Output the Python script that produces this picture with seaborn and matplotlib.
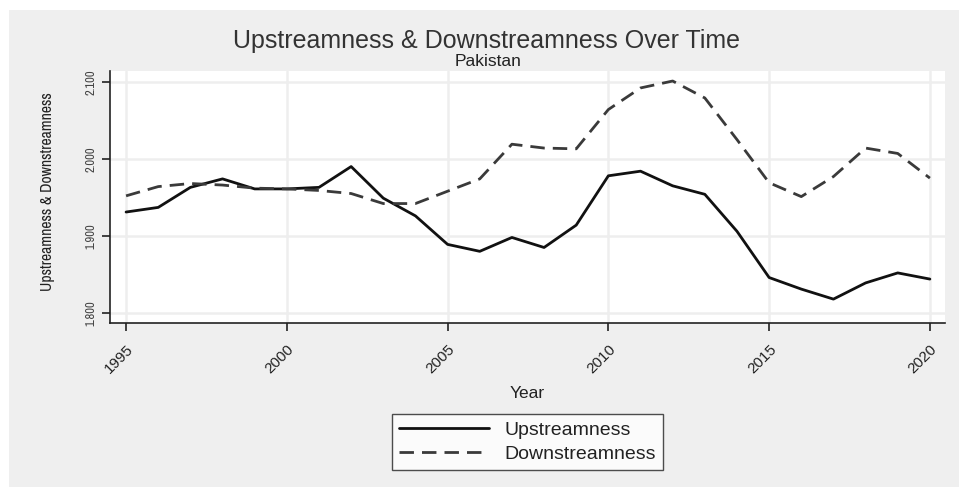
import numpy as np
import pandas as pd
import matplotlib
matplotlib.use("Agg")
import matplotlib.pyplot as plt
from matplotlib import font_manager
from matplotlib.patches import Rectangle
import seaborn as sns

# Pakistan: GVC position indices by year
years = list(range(1995, 2021))
upstreamness = [1.931, 1.937, 1.963, 1.974, 1.961, 1.961, 1.963, 1.990, 1.949, 1.926,
                1.889, 1.880, 1.898, 1.885, 1.914, 1.978, 1.984, 1.965, 1.954, 1.906,
                1.846, 1.831, 1.818, 1.839, 1.852, 1.844]
downstreamness = [1.952, 1.964, 1.968, 1.966, 1.962, 1.961, 1.959, 1.955, 1.942, 1.942,
                  1.958, 1.974, 2.019, 2.014, 2.013, 2.064, 2.092, 2.101, 2.079, 2.025,
                  1.969, 1.951, 1.977, 2.014, 2.007, 1.975]
series_names = ["Upstreamness", "Downstreamness"]
x_ticks = [1995, 2000, 2005, 2010, 2015, 2020]
y_ticks = [1.8, 1.9, 2.0, 2.1]
y_tick_labels = ["1.800", "1.900", "2.000", "2.100"]

df = pd.DataFrame({
    "Year": years * 2,
    "Value": upstreamness + downstreamness,
    "Series": [series_names[0]] * len(years) + [series_names[1]] * len(years),
})

sns.set_theme(style="white")
plt.rcParams["font.family"] = ["Liberation Sans", "DejaVu Sans"]

# a condensed face for the rotated y-axis text, if one is installed
narrow_names = sorted({f.name for f in font_manager.fontManager.ttflist
                       if "Narrow" in f.name or "Condensed" in f.name})
narrow = narrow_names[0] if narrow_names else None
if narrow:
    ylab_family, ylab_size, ytick_size = [narrow, "Liberation Sans"], 11.3, 9
else:
    ylab_family, ylab_size, ytick_size = ["Liberation Sans"], 10.0, 6.8

W, H, DPI = 959, 487, 100
fig = plt.figure(figsize=(W / DPI, H / DPI), dpi=DPI, facecolor="white")
# grey panel behind everything, leaving a thin white margin top and left
fig.patches.append(Rectangle((9 / W, 0), 1 - 9 / W, 1 - 10 / H,
                             transform=fig.transFigure, facecolor="#efefef",
                             edgecolor="none", zorder=-10))

ax = fig.add_axes([110 / W, 1 - 323 / H, (945 - 110) / W, (323 - 71) / H])
ax.set_facecolor("white")

dash = (5.2, 2.9)
sns.lineplot(data=df, x="Year", y="Value", hue="Series", style="Series",
             palette={"Upstreamness": "#111111", "Downstreamness": "#3a3a3a"},
             dashes={"Upstreamness": "", "Downstreamness": dash},
             linewidth=2.0, ax=ax, legend=False)

ax.set_xlim(1994.5, 2020.47)
ax.set_ylim(1.787, 2.114)
ax.set_xticks(x_ticks)
ax.set_xticklabels([str(t) for t in x_ticks], rotation=45, fontsize=11,
                   ha="right", va="top", rotation_mode="anchor", color="#222222")
ax.set_yticks(y_ticks)
ax.set_yticklabels(y_tick_labels, rotation=90, va="center",
                   family=ylab_family, fontsize=ytick_size, color="#444444")
ax.grid(True, color="#eeeeee", linewidth=1.8)
ax.tick_params(axis="both", which="major", direction="out", length=5.5, width=1.2,
               color="#222222", left=True, bottom=True)
ax.tick_params(axis="x", pad=8)
ax.tick_params(axis="y", pad=4)

for side in ["top", "right"]:
    ax.spines[side].set_visible(False)
for side in ["left", "bottom"]:
    ax.spines[side].set_color("#222222")
    ax.spines[side].set_linewidth(1.2)

ax.set_xlabel("Year", fontsize=12.5, color="#222222")
ax.set_ylabel("Upstreamness & Downstreamness", fontsize=ylab_size, color="#222222",
              family=ylab_family)
ax.xaxis.set_label_coords(0.5, -0.25)
ax.yaxis.set_label_coords(-0.066, 0.52)

fig.text(486 / W, 1 - 41 / H, "Upstreamness & Downstreamness Over Time",
         ha="center", va="center", fontsize=18, color="#333333")
fig.text(488 / W, 1 - 61 / H, "Pakistan", ha="center", va="center",
         fontsize=12.5, color="#222222")

handles = [plt.Line2D([], [], color="#111111", linewidth=2.0),
           plt.Line2D([], [], color="#3a3a3a", linewidth=2.0, dashes=dash)]
leg = fig.legend(handles, series_names, loc="center",
                 bbox_to_anchor=(527.5 / W, 1 - 442 / H), ncol=1, frameon=True,
                 fancybox=False, fontsize=14, handlelength=4.6, handletextpad=0.8,
                 borderpad=0.36, labelspacing=0.32, borderaxespad=0)
leg.get_frame().set_edgecolor("#222222")
leg.get_frame().set_linewidth(1.0)
leg.get_frame().set_facecolor("white")
for t in leg.get_texts():
    t.set_color("#222222")

fig.savefig("out.png", dpi=DPI, facecolor=fig.get_facecolor())
